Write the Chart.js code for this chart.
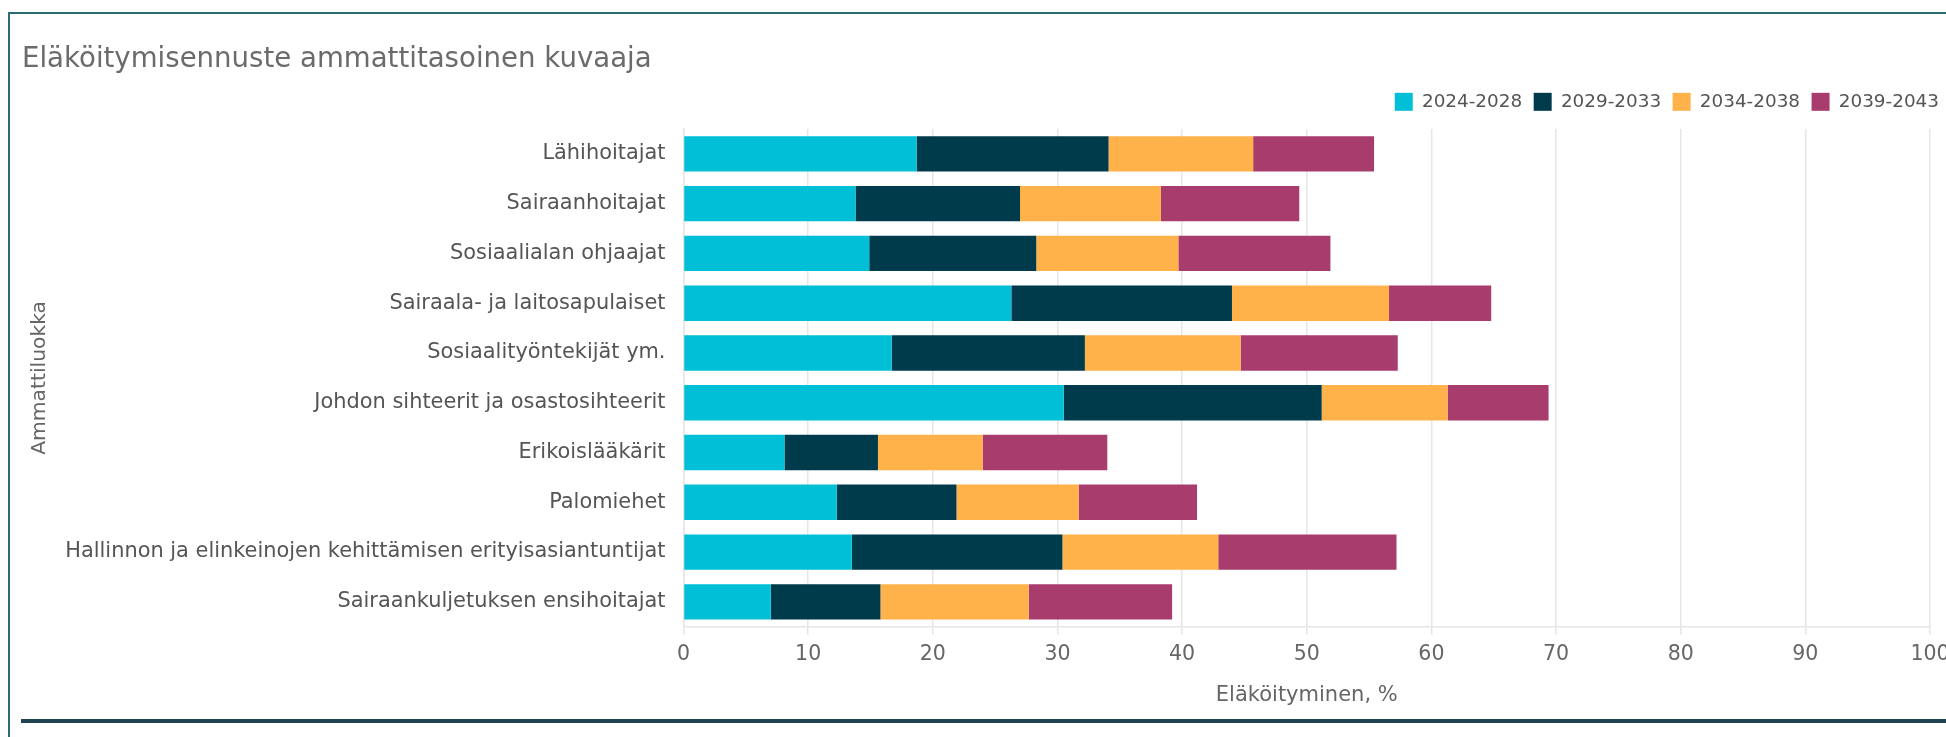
<!DOCTYPE html>
<html>
<head>
<meta charset="utf-8">
<script src="https://cdn.jsdelivr.net/npm/chart.js@4.4.1/dist/chart.umd.min.js"></script>
<style>
  html, body { margin: 0; padding: 0; background: #fff; overflow: hidden; }
  #wrap { position: relative; width: 1946px; height: 737px; }
  .frame { position: absolute; left: 8px; top: 12px; right: -20px; bottom: -20px;
           border-left: 2px solid #2b6b76; border-top: 2px solid #2b6b76; }
  .footline { position: absolute; left: 21px; right: 0; top: 719px; height: 4px; background: #1f4352; }
  canvas { position: absolute; left: 0; top: 0; }
</style>
</head>
<body>
<div id="wrap">
  <div class="frame"></div>
  <div class="footline"></div>
  <canvas id="chart" width="1946" height="737" style="width:1946px;height:737px"></canvas>
</div>
<script>
// ammattiluokat
const categories = [
  'Lähihoitajat',
  'Sairaanhoitajat',
  'Sosiaalialan ohjaajat',
  'Sairaala- ja laitosapulaiset',
  'Sosiaalityöntekijät ym.',
  'Johdon sihteerit ja osastosihteerit',
  'Erikoislääkärit',
  'Palomiehet',
  'Hallinnon ja elinkeinojen kehittämisen erityisasiantuntijat',
  'Sairaankuljetuksen ensihoitajat'
];

const periods = ['2024-2028', '2029-2033', '2034-2038', '2039-2043'];

// eläköityminen, % (jaksoittain)
const v2024 = [18.7, 13.8, 14.9, 26.3, 16.7, 30.5, 8.1, 12.3, 13.5, 7.0];
const v2029 = [15.4, 13.2, 13.4, 17.7, 15.5, 20.7, 7.5, 9.6, 16.9, 8.8];
const v2034 = [11.6, 11.3, 11.4, 12.6, 12.5, 10.1, 8.4, 9.8, 12.5, 11.9];
const v2039 = [9.7, 11.1, 12.2, 8.2, 12.6, 8.1, 10.0, 9.5, 14.3, 11.5];

const colors = ['#00bfd6', '#003b4c', '#ffb24a', '#a73c6d'];

const xMin = 0;
const xMax = 100;
const xStep = 10;

const font = 'DejaVu Sans';
const series = [v2024, v2029, v2034, v2039];

// legend sits a bit further right than the plot area
const legendShift = {
  id: 'legendShift',
  afterLayout(chart) {
    const lg = chart.legend;
    lg.left += 21;
    lg.right += 21;
    // little slack so the last item doesn't wrap on rounding
    lg.lineWidths[0] += 0.5;
  }
};

const ctx = document.getElementById('chart').getContext('2d');
new Chart(ctx, {
  type: 'bar',
  data: {
    labels: categories,
    datasets: series.map((d, i) => ({
      label: periods[i],
      data: d,
      backgroundColor: colors[i],
      borderWidth: 0,
      barPercentage: 0.71,
      categoryPercentage: 1
    }))
  },
  plugins: [legendShift],
  options: {
    indexAxis: 'y',
    responsive: false,
    animation: false,
    layout: { padding: { left: 22, right: 16, top: 0, bottom: 24.8 } },
    plugins: {
      title: {
        display: true,
        text: 'Eläköitymisennuste ammattitasoinen kuvaaja',
        align: 'start',
        color: '#6b6b6b',
        font: { family: font, size: 27.6, weight: 'normal' },
        padding: { top: 43, bottom: 5 }
      },
      legend: {
        position: 'top',
        align: 'end',
        labels: {
          boxWidth: 18,
          boxHeight: 18,
          padding: 11.5,
          color: '#555',
          font: { family: font, size: 18.4 }
        }
      },
      tooltip: { enabled: false }
    },
    scales: {
      x: {
        stacked: true,
        min: xMin,
        max: xMax,
        ticks: { stepSize: xStep, color: '#666', font: { family: font, size: 20.5 }, padding: 8 },
        grid: { color: '#e6e6e6', lineWidth: 1.5, tickLength: 8 },
        border: { color: '#e6e6e6', width: 1.5 },
        title: {
          display: true,
          text: 'Eläköityminen, %',
          color: '#666',
          font: { family: font, size: 21 },
          padding: { top: 7.7, bottom: 4 }
        },
        afterFit(scale) { scale.paddingRight = 0; }
      },
      // tyhjä väli selitteen ja kuvaajan välissä
      xGap: {
        type: 'linear',
        position: 'top',
        display: true,
        grid: { display: false, drawTicks: false },
        border: { display: false },
        ticks: { display: false },
        afterFit(scale) { scale.height = 8; }
      },
      y: {
        stacked: true,
        grid: { display: false, drawTicks: false },
        border: { display: true, color: '#e6e6e6', width: 1.5 },
        ticks: { color: '#555', font: { family: font, size: 20.9 }, padding: 18 },
        title: {
          display: true,
          text: 'Ammattiluokka',
          color: '#666',
          font: { family: font, size: 20.3 },
          padding: { top: 6, bottom: 4 }
        },
        afterFit(scale) { scale.width = 661.5; }
      }
    }
  }
});
</script>
</body>
</html>
